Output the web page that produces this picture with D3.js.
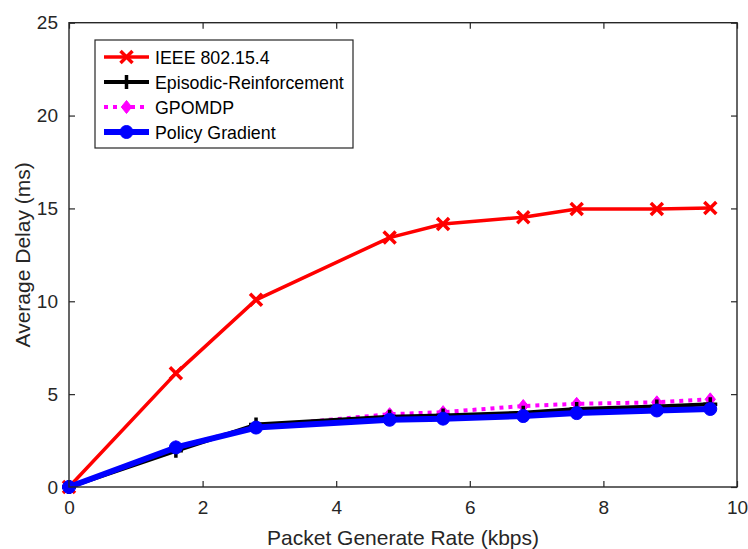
<!DOCTYPE html>
<html>
<head>
<meta charset="utf-8">
<script src="https://cdn.jsdelivr.net/npm/d3@7/dist/d3.min.js"></script>
<style>
  html, body { margin: 0; padding: 0; background: #fff; }
  svg { display: block; font-family: "Liberation Sans", Arial, sans-serif; }
</style>
</head>
<body>
<svg id="chart" width="748" height="549"></svg>
<script>
// Packet generate rate (kbps) sampled for every scheme
const rates = [0, 1.6, 2.8, 4.8, 5.6, 6.8, 7.6, 8.8, 9.6];

// Average delay (ms) per scheme
const ieee802154 = [0, 6.12, 10.08, 13.43, 14.16, 14.53, 14.97, 14.97, 15.02];
const episodicReinforcement = [0, 1.95, 3.36, 3.78, 3.85, 4.0, 4.2, 4.33, 4.45];
const gpomdp = [0, 2.15, 3.25, 3.92, 4.03, 4.36, 4.48, 4.56, 4.72];
const policyGradient = [0, 2.13, 3.2, 3.62, 3.68, 3.82, 3.98, 4.12, 4.2];

const seriesNames = ["IEEE 802.15.4", "Episodic-Reinforcement", "GPOMDP", "Policy Gradient"];

const xTicks = [0, 2, 4, 6, 8, 10];
const yTicks = [0, 5, 10, 15, 20, 25];

const series = [
  { name: seriesNames[0], values: ieee802154, color: "#ff0000", width: 3.5, dash: null, marker: "x" },
  { name: seriesNames[2], values: gpomdp, color: "#ff00ff", width: 4, dash: "4,5", marker: "diamond" },
  { name: seriesNames[1], values: episodicReinforcement, color: "#000000", width: 4, dash: null, marker: "plus" },
  { name: seriesNames[3], values: policyGradient, color: "#0000ff", width: 6, dash: null, marker: "circle" }
];
const legendOrder = [0, 2, 1, 3];

const svg = d3.select("#chart");
const plotLeft = 69, plotRight = 737, plotTop = 22.7, plotBottom = 487;

const x = d3.scaleLinear().domain([0, 10]).range([plotLeft, plotRight]);
const y = d3.scaleLinear().domain([0, 25]).range([plotBottom, plotTop]);

// Axes with inward ticks, mirrored on top and right
const tickLen = 6;
const axisFont = 19;
function styleAxis(g) {
  g.select(".domain").remove();
  g.selectAll(".tick line").attr("stroke", "#262626").attr("stroke-width", 1.2);
  g.selectAll(".tick text").attr("fill", "#262626").style("font-size", axisFont + "px");
}
svg.append("g").attr("transform", `translate(0,${plotBottom})`)
  .call(d3.axisBottom(x).tickValues(xTicks).tickSizeInner(-tickLen).tickPadding(14))
  .call(styleAxis);
svg.append("g").attr("transform", `translate(0,${plotTop})`)
  .call(d3.axisTop(x).tickValues(xTicks).tickSizeInner(-tickLen).tickFormat(""))
  .call(styleAxis);
svg.append("g").attr("transform", `translate(${plotLeft},0)`)
  .call(d3.axisLeft(y).tickValues(yTicks).tickSizeInner(-tickLen).tickPadding(11))
  .call(styleAxis);
svg.append("g").attr("transform", `translate(${plotRight},0)`)
  .call(d3.axisRight(y).tickValues(yTicks).tickSizeInner(-tickLen).tickFormat(""))
  .call(styleAxis);

// Series lines and markers
const line = d3.line().x((d, i) => x(rates[i])).y(d => y(d));

function drawMarker(g, type, cx, cy, color) {
  if (type === "x") {
    const s = 6;
    g.append("path").attr("d", `M${cx - s},${cy - s}L${cx + s},${cy + s}M${cx - s},${cy + s}L${cx + s},${cy - s}`)
      .attr("stroke", color).attr("stroke-width", 3.5).attr("fill", "none");
  } else if (type === "plus") {
    const s = 7;
    g.append("path").attr("d", `M${cx - s},${cy}L${cx + s},${cy}M${cx},${cy - s}L${cx},${cy + s}`)
      .attr("stroke", color).attr("stroke-width", 3.5).attr("fill", "none");
  } else if (type === "diamond") {
    const s = 6.5;
    g.append("path").attr("d", `M${cx},${cy - s}L${cx + s * 0.8},${cy}L${cx},${cy + s}L${cx - s * 0.8},${cy}Z`)
      .attr("fill", color).attr("stroke", color).attr("stroke-width", 1);
  } else if (type === "circle") {
    g.append("circle").attr("cx", cx).attr("cy", cy).attr("r", 6.5)
      .attr("fill", color).attr("stroke", color).attr("stroke-width", 1);
  }
}

const plot = svg.append("g");
series.forEach(s => {
  const g = plot.append("g");
  g.append("path").datum(s.values).attr("d", line)
    .attr("fill", "none").attr("stroke", s.color).attr("stroke-width", s.width)
    .attr("stroke-linejoin", "round")
    .attr("stroke-dasharray", s.dash);
  s.values.forEach((v, i) => drawMarker(g, s.marker, x(rates[i]), y(v), s.color));
});

// Frame
svg.append("rect").attr("x", plotLeft).attr("y", plotTop)
  .attr("width", plotRight - plotLeft).attr("height", plotBottom - plotTop)
  .attr("fill", "none").attr("stroke", "#262626").attr("stroke-width", 1.4);

// Axis titles
svg.append("text").attr("x", (plotLeft + plotRight) / 2).attr("y", 545).attr("text-anchor", "middle")
  .attr("fill", "#262626").style("font-size", "21px").text("Packet Generate Rate (kbps)");
svg.append("text").attr("transform", `translate(30,${(plotTop + plotBottom) / 2}) rotate(-90)`)
  .attr("text-anchor", "middle")
  .attr("fill", "#262626").style("font-size", "21px").text("Average Delay (ms)");

// Legend
const lg = svg.append("g");
lg.append("rect").attr("x", 95).attr("y", 40).attr("width", 258).attr("height", 108)
  .attr("fill", "#fff").attr("stroke", "#262626").attr("stroke-width", 1.2);
legendOrder.forEach((si, k) => {
  const s = series[si];
  const ly = 57 + k * 25;
  const g = lg.append("g");
  g.append("line").attr("x1", 104).attr("x2", 149).attr("y1", ly).attr("y2", ly)
    .attr("stroke", s.color).attr("stroke-width", s.width).attr("stroke-dasharray", s.dash);
  drawMarker(g, s.marker, 126.5, ly, s.color);
  g.append("text").attr("x", 155).attr("y", ly + 6.5).attr("fill", "#000")
    .style("font-size", "17.8px").text(s.name);
});
</script>
</body>
</html>
